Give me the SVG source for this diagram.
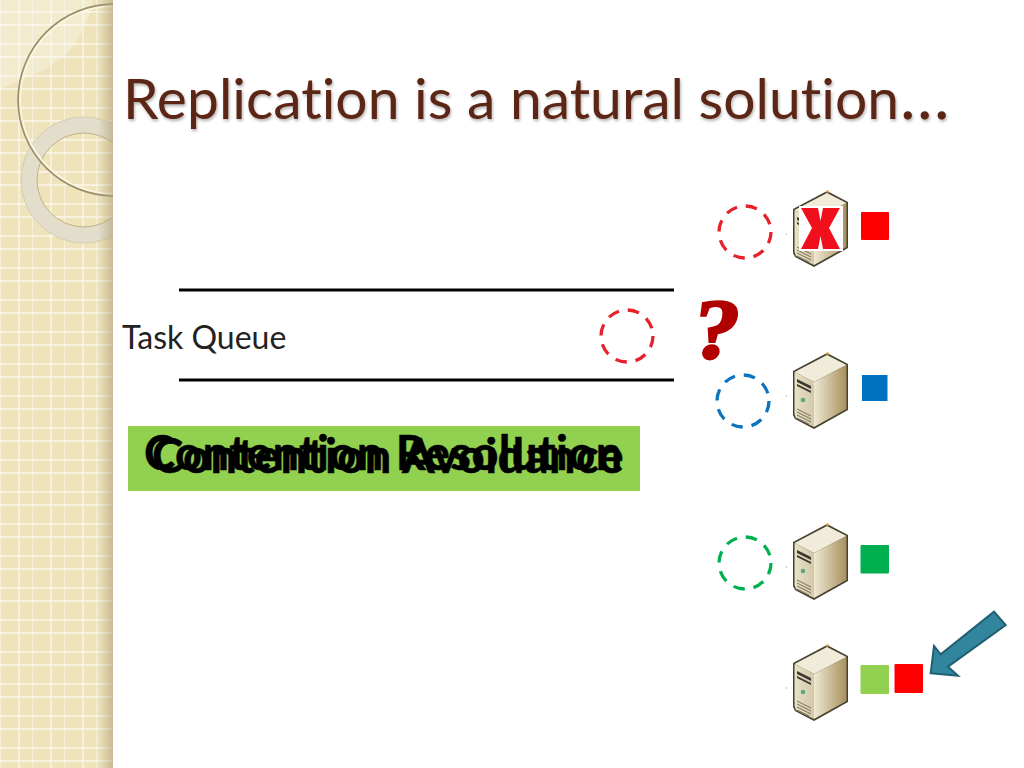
<svg xmlns="http://www.w3.org/2000/svg" xmlns:xlink="http://www.w3.org/1999/xlink" width="1024" height="768" viewBox="0 0 1024 768">
<style>
.ring{fill:none;stroke-width:3.300;stroke-dasharray:11.500 8.920}
.sq{stroke:none}
.lbl{font-family:"Lato","Liberation Sans",sans-serif;font-variant-ligatures:none}
.cr{font-family:"Lato","Liberation Sans",sans-serif;font-variant-ligatures:none;font-weight:700;font-size:47px;letter-spacing:.45px;fill:#000;stroke:#000;stroke-width:.5}
</style>
<defs>
<pattern id="grid" width="32" height="32" patternUnits="userSpaceOnUse">
<rect width="32" height="32" fill="#efe3bb"/>
<path d="M19 0V32M0 12H32M0 25H32" stroke="#fbf7ea" stroke-width="1.300" fill="none"/>
<path d="M0 0V32" stroke="#fbf7ea" stroke-width="1.300" fill="none"/>
</pattern>
<linearGradient id="edge" x1="0" x2="1" y1="0" y2="0">
<stop offset="0" stop-color="#a89a70" stop-opacity="0"/>
<stop offset="1" stop-color="#a89a70" stop-opacity=".55"/>
</linearGradient>
<linearGradient id="front" x1="0" x2="1" y1="0" y2="0">
<stop offset="0" stop-color="#e8e0c8"/><stop offset="1" stop-color="#d3c8a8"/>
</linearGradient>
<linearGradient id="side" x1="0" x2="1" y1="0" y2="0">
<stop offset="0" stop-color="#efe8d3"/><stop offset="1" stop-color="#a8915f"/>
</linearGradient>
<filter id="shadow" x="-5%" y="-20%" width="110%" height="140%">
<feDropShadow dx="1" dy="2" stdDeviation="1.500" flood-color="#000" flood-opacity=".3"/>
</filter>
<clipPath id="panel"><rect width="113" height="768"/></clipPath>
<symbol id="server" width="60" height="80" viewBox="0 0 60 80" overflow="visible">
<path d="M0 18 34 0 55 11V57L21 76 2 66 0 62Z" fill="#45412f"/>
<path d="M1.500 19 34 2 53.500 12 21 29Z" fill="#f1ecd9"/>
<path d="M1.500 19 21 29V74L3 65 1.500 61Z" fill="url(#front)"/>
<path d="M21 29 53.500 12V56L21 74Z" fill="url(#side)"/>
<path d="M4 26 18 33V36L4 29ZM4 31 18 38V40L4 33Z" fill="#3c3a30"/>
<circle cx="10" cy="47" r="2.300" fill="#5aa880"/>
<path d="M4 56 18 63M4 59 18 66M4 62 18 69M4 65 16 71" stroke="#77705a" stroke-width="1" fill="none"/>
<rect x="-7" y="42.500" width="1" height="1" fill="#888"/>
<rect x="33" y="-0.500" width="3" height="2" fill="#d9a050"/>
</symbol>
</defs>

<g id="background">
<rect width="113" height="768" fill="url(#grid)"/>
<path d="M0 0H93Q84 50 40 72L0 89Z" fill="#fff" fill-opacity=".28"/>
<g clip-path="url(#panel)">
<circle cx="84" cy="180" r="55" fill="none" stroke="#e3ddcb" stroke-width="16"/>
<circle cx="84" cy="180" r="63" fill="none" stroke="#cfc7ac" stroke-width=".8"/>
<circle cx="84" cy="180" r="47" fill="none" stroke="#c0b189" stroke-width="1"/>
<circle cx="114" cy="100" r="95.500" fill="none" stroke="#9d8f6b" stroke-width="2.500"/>
<circle cx="114" cy="100" r="94" fill="none" stroke="#fbf6e2" stroke-width="2"/>
</g>
<rect x="98" width="15" height="768" fill="url(#edge)"/>
</g>

<g id="title"><text class="lbl" x="123" y="118.500" font-size="57" fill="#5c2614" filter="url(#shadow)">Replication is a natural solution<tspan font-size="66" dx="1">…</tspan></text></g>

<g id="connectors">
<line x1="179" y1="290" x2="674" y2="290" stroke="#000" stroke-width="3"/>
<line x1="179" y1="380" x2="674" y2="380" stroke="#000" stroke-width="3"/>
</g>

<g id="task-queue"><text class="lbl" x="122" y="349" font-size="32" fill="#222">Task Queue</text></g>
<g id="queue-task"><circle class="ring" cx="627" cy="336" r="26" stroke="#e8202a"/></g>

<g id="contention">
<rect x="128" y="426" width="512" height="65" fill="#92d050"/>
<text class="cr" x="144" y="470">Contention Resolution</text>
<text class="cr" x="152" y="473">Contention Avoidance</text>
</g>

<g id="question"><text transform="translate(690 358) skewX(-8) scale(1.050 .97)" font-family="Liberation Serif, serif" font-weight="700" font-size="88" fill="#b00000" stroke="#b00000" stroke-width="2.500">?</text></g>

<g id="server-1">
<circle class="ring" cx="745" cy="232" r="26" stroke="#e8202a"/>
<use href="#server" x="793" y="191"/>
<rect x="799" y="206" width="44" height="45" fill="#fff"/>
<path d="M801 208H818L820.500 221 823 208H840L829 228 840 249H823L820.500 236 818 249H801L812 228Z" fill="#f0101c"/>
<rect class="sq" x="861" y="212" width="28" height="28" rx="1" fill="#ff0000"/>
</g>
<g id="server-2">
<circle class="ring" cx="743" cy="401" r="26" stroke="#0e72bd"/>
<use href="#server" x="793" y="353"/>
<rect class="sq" x="862" y="375" width="25.500" height="26" fill="#0070c0"/>
</g>
<g id="server-3">
<circle class="ring" cx="745" cy="563" r="26" stroke="#00b050"/>
<use href="#server" x="793" y="524"/>
<rect class="sq" x="860.500" y="545" width="28.500" height="28.500" rx="1" fill="#00b050"/>
</g>
<g id="server-4">
<use href="#server" x="793" y="645"/>
<rect class="sq" x="860.500" y="665" width="28.500" height="29" rx="1" fill="#92d050"/>
<rect class="sq" x="894.500" y="664" width="28.500" height="29" rx="1" fill="#ff0000"/>
</g>
<g id="arrow"><path d="M930.700 673.300 958 675.700 948 666.700 1005.700 625 994 611.700 940.700 654.300 934 646Z" fill="#31859c" stroke="#215f72" stroke-width="2"/></g>
</svg>
